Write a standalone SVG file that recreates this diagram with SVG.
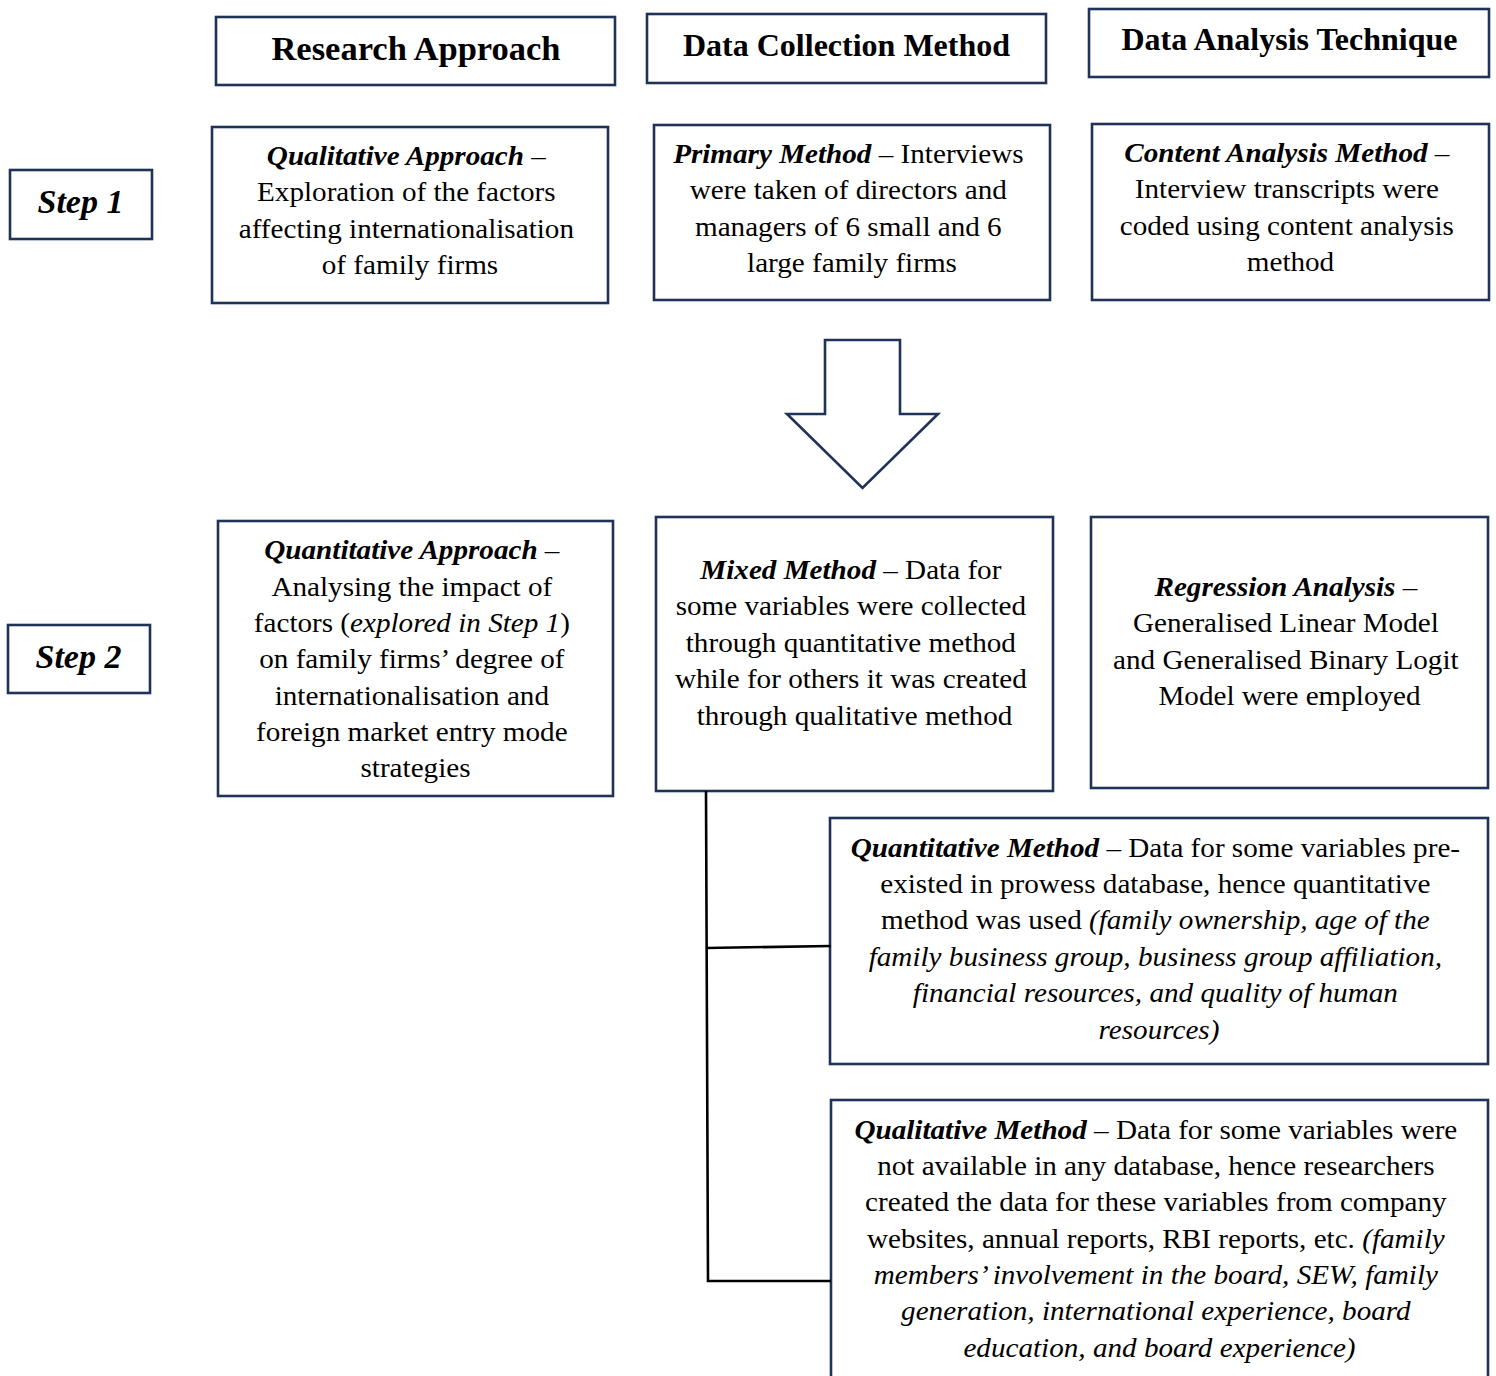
<svg xmlns="http://www.w3.org/2000/svg" width="1496" height="1376" viewBox="0 0 1496 1376">
  <style>
    .box { fill: #ffffff; stroke: #1f3258; stroke-width: 2.6; }
    .head { font-family: "Liberation Serif", "Times New Roman", serif; font-weight: bold; font-size: 32px; fill: #000; text-anchor: middle; }
    .step { font-family: "Liberation Serif", "Times New Roman", serif; font-weight: bold; font-style: italic; font-size: 34px; fill: #000; text-anchor: middle; }
    .body { font-family: "Liberation Serif", "Times New Roman", serif; font-size: 26.5px; fill: #000; text-anchor: middle; }
    .bi { font-weight: bold; font-style: italic; }
    .it { font-style: italic; }
    .wire { fill: none; stroke: #000; stroke-width: 2.6; }
  </style>

  <rect width="1496" height="1376" fill="#ffffff"/>

  <!-- column headers -->
  <g id="hdr-research-approach">
    <rect class="box" x="216" y="17" width="399" height="68"/>
    <text class="head" x="416" y="60" style="font-size:34.5px">Research Approach</text>
  </g>
  <g id="hdr-data-collection">
    <rect class="box" x="647" y="14" width="399" height="69"/>
    <text class="head" x="846.5" y="56">Data Collection Method</text>
  </g>
  <g id="hdr-data-analysis">
    <rect class="box" x="1089" y="9" width="400" height="68"/>
    <text class="head" x="1289.5" y="50">Data Analysis Technique</text>
  </g>

  <!-- step labels -->
  <g id="step-1">
    <rect class="box" x="10" y="170" width="142" height="69"/>
    <text class="step" x="80.5" y="213">Step 1</text>
  </g>
  <g id="step-2">
    <rect class="box" x="8" y="625" width="142" height="68"/>
    <text class="step" x="78.5" y="668">Step 2</text>
  </g>

  <!-- step 1 row -->
  <g id="qualitative-approach">
    <rect class="box" x="212" y="127" width="396" height="176"/>
    <text class="body" transform="translate(410 0) scale(1.1 1)">
      <tspan x="0" y="165"><tspan class="bi">Qualitative Approach</tspan> –</tspan>
      <tspan x="0" y="201">Exploration of the factors</tspan>
      <tspan x="0" y="238">affecting internationalisation</tspan>
      <tspan x="0" y="274">of family firms</tspan>
    </text>
  </g>
  <g id="primary-method">
    <rect class="box" x="654" y="125" width="396" height="175"/>
    <text class="body" transform="translate(852 0) scale(1.1 1)">
      <tspan x="0" y="163"><tspan class="bi">Primary Method</tspan> – Interviews</tspan>
      <tspan x="0" y="199">were taken of directors and</tspan>
      <tspan x="0" y="236">managers of 6 small and 6</tspan>
      <tspan x="0" y="272">large family firms</tspan>
    </text>
  </g>
  <g id="content-analysis">
    <rect class="box" x="1092" y="124" width="397" height="176"/>
    <text class="body" transform="translate(1290.5 0) scale(1.1 1)">
      <tspan x="0" y="162"><tspan class="bi">Content Analysis Method</tspan> –</tspan>
      <tspan x="0" y="198">Interview transcripts were</tspan>
      <tspan x="0" y="235">coded using content analysis</tspan>
      <tspan x="0" y="271">method</tspan>
    </text>
  </g>

  <!-- transition arrow between the steps -->
  <g id="step-arrow">
    <polygon points="825,340 900,340 900,414 938,414 862.5,488 787,414 825,414" fill="#ffffff" stroke="#1f3258" stroke-width="2.6" stroke-linejoin="miter"/>
  </g>

  <!-- step 2 row -->
  <g id="quantitative-approach">
    <rect class="box" x="218" y="521" width="395" height="275"/>
    <text class="body" transform="translate(415.5 0) scale(1.1 1)">
      <tspan x="0" y="559"><tspan class="bi">Quantitative Approach</tspan> –</tspan>
      <tspan x="0" y="596">Analysing the impact of</tspan>
      <tspan x="0" y="632">factors (<tspan class="it">explored in Step 1</tspan>)</tspan>
      <tspan x="0" y="668">on family firms’ degree of</tspan>
      <tspan x="0" y="705">internationalisation and</tspan>
      <tspan x="0" y="741">foreign market entry mode</tspan>
      <tspan x="0" y="777">strategies</tspan>
    </text>
  </g>
  <g id="mixed-method">
    <rect class="box" x="656" y="517" width="397" height="274"/>
    <text class="body" transform="translate(854.5 0) scale(1.1 1)">
      <tspan x="0" y="579"><tspan class="bi">Mixed Method</tspan> – Data for</tspan>
      <tspan x="0" y="615">some variables were collected</tspan>
      <tspan x="0" y="652">through quantitative method</tspan>
      <tspan x="0" y="688">while for others it was created</tspan>
      <tspan x="0" y="725">through qualitative method</tspan>
    </text>
  </g>
  <g id="regression-analysis">
    <rect class="box" x="1091" y="517" width="397" height="271"/>
    <text class="body" transform="translate(1289.5 0) scale(1.1 1)">
      <tspan x="0" y="596"><tspan class="bi">Regression Analysis</tspan> –</tspan>
      <tspan x="0" y="632">Generalised Linear Model</tspan>
      <tspan x="0" y="669">and Generalised Binary Logit</tspan>
      <tspan x="0" y="705">Model were employed</tspan>
    </text>
  </g>

  <!-- sub-methods of the mixed method -->
  <g id="quantitative-method">
    <rect class="box" x="830" y="818" width="658" height="246"/>
    <text class="body" transform="translate(1159 0) scale(1.1 1)">
      <tspan x="0" y="857"><tspan class="bi">Quantitative Method</tspan> – Data for some variables pre-</tspan>
      <tspan x="0" y="893">existed in prowess database, hence quantitative</tspan>
      <tspan x="0" y="929">method was used <tspan class="it">(family ownership, age of the</tspan></tspan>
      <tspan x="0" y="966" class="it">family business group, business group affiliation,</tspan>
      <tspan x="0" y="1002" class="it">financial resources, and quality of human</tspan>
      <tspan x="0" y="1039" class="it">resources)</tspan>
    </text>
  </g>
  <g id="qualitative-method">
    <rect class="box" x="831" y="1100" width="657" height="290"/>
    <text class="body" transform="translate(1159.5 0) scale(1.1 1)">
      <tspan x="0" y="1139"><tspan class="bi">Qualitative Method</tspan> – Data for some variables were</tspan>
      <tspan x="0" y="1175">not available in any database, hence researchers</tspan>
      <tspan x="0" y="1211">created the data for these variables from company</tspan>
      <tspan x="0" y="1248">websites, annual reports, RBI reports, etc. <tspan class="it">(family</tspan></tspan>
      <tspan x="0" y="1284" class="it">members’ involvement in the board, SEW, family</tspan>
      <tspan x="0" y="1320" class="it">generation, international experience, board</tspan>
      <tspan x="0" y="1357" class="it">education, and board experience)</tspan>
    </text>
  </g>

  <!-- connectors -->
  <g id="connectors">
    <polyline class="wire" points="706,791 708,1281 831,1281"/>
    <line class="wire" x1="706" y1="948" x2="831" y2="946"/>
  </g>
</svg>
